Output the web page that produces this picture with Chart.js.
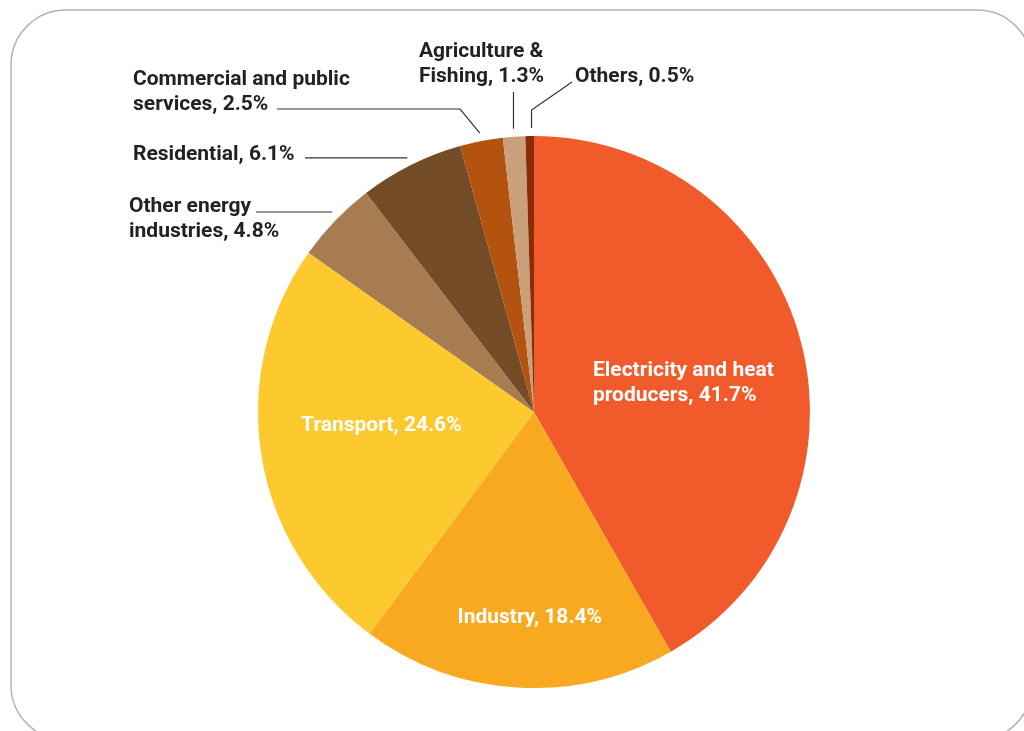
<!DOCTYPE html>
<html>
<head>
<meta charset="utf-8">
<script src="https://cdn.jsdelivr.net/npm/chart.js@4.4.0/dist/chart.umd.min.js"></script>
<style>
  html, body { margin: 0; padding: 0; background: #fff; }
  #wrap { width: 1024px; height: 731px; position: relative; }
</style>
</head>
<body>
<div id="wrap"><canvas id="pieChart" width="1024" height="731"></canvas></div>
<script>
const sectors = [
  'Electricity and heat producers',
  'Industry',
  'Transport',
  'Other energy industries',
  'Residential',
  'Commercial and public services',
  'Agriculture & Fishing',
  'Others'
];
const shares = [41.7, 18.4, 24.6, 4.8, 6.1, 2.5, 1.3, 0.5];
const colors = ['#F15A2B', '#F8A91F', '#FCC92F', '#A77C51', '#744C28', '#B3530F', '#C9A07A', '#8A2C06'];

// label text lines, by slice
const labelLines = [
  ['Electricity and heat', 'producers, 41.7%'],
  ['Industry, 18.4%'],
  ['Transport, 24.6%'],
  ['Other energy', 'industries, 4.8%'],
  ['Residential, 6.1%'],
  ['Commercial and public', 'services, 2.5%'],
  ['Agriculture &', 'Fishing, 1.3%'],
  ['Others, 0.5%']
];

const FONT = 'bold 21px Roboto, "Noto Sans", sans-serif';
const LH = 25;

// rounded frame behind the chart
const framePlugin = {
  id: 'frame',
  beforeDraw(chart) {
    const ctx = chart.ctx;
    ctx.save();
    ctx.strokeStyle = '#b4b4b4';
    ctx.lineWidth = 1.5;
    ctx.beginPath();
    ctx.roundRect(11, 10, 1021, 730, 55);
    ctx.stroke();
    ctx.restore();
  }
};

function arcPoint(arc, extra) {
  const mid = (arc.startAngle + arc.endAngle) / 2;
  const r = arc.outerRadius + extra;
  return { x: arc.x + Math.cos(mid) * r, y: arc.y + Math.sin(mid) * r };
}

const labelPlugin = {
  id: 'sliceLabels',
  afterDatasetsDraw(chart) {
    const ctx = chart.ctx;
    const arcs = chart.getDatasetMeta(0).data;
    ctx.save();
    ctx.font = FONT;
    ctx.textBaseline = 'alphabetic';

    // inside labels: block centred on a point of the slice, lines left-aligned
    const inside = [
      { i: 0, fr: 0.56, dx: 0, dy: 9 },
      { i: 1, fr: 0.74, dx: 8, dy: 0 },
      { i: 2, fr: 0.56, dx: 0, dy: -13 }
    ];
    ctx.fillStyle = '#ffffff';
    ctx.textAlign = 'left';
    inside.forEach(o => {
      const a = arcs[o.i];
      const mid = (a.startAngle + a.endAngle) / 2;
      const cx = a.x + Math.cos(mid) * a.outerRadius * o.fr + o.dx;
      const cy = a.y + Math.sin(mid) * a.outerRadius * o.fr + o.dy;
      const lines = labelLines[o.i];
      const w = Math.max(...lines.map(t => ctx.measureText(t).width));
      const first = cy - (lines.length - 1) * LH / 2 + 7.5;
      lines.forEach((t, k) => ctx.fillText(t, cx - w / 2, first + k * LH));
    });

    // outside labels with leader lines
    ctx.fillStyle = '#222222';
    const outside = [
      { i: 3, x: 129, y: 212 },
      { i: 4, x: 133, y: 160 },
      { i: 5, x: 133, y: 85 },
      { i: 6, x: 419, y: 57 },
      { i: 7, x: 575, y: 82 }
    ];
    outside.forEach(o => {
      labelLines[o.i].forEach((t, k) => ctx.fillText(t, o.x, o.y + k * LH));
    });

    ctx.strokeStyle = '#333333';
    ctx.lineWidth = 1.2;
    const line = pts => {
      ctx.beginPath();
      ctx.moveTo(pts[0].x, pts[0].y);
      pts.slice(1).forEach(p => ctx.lineTo(p.x, p.y));
      ctx.stroke();
    };
    // Other energy industries
    let p = arcPoint(arcs[3], 8);
    line([{ x: p.x + 3, y: 212 }, { x: 256, y: 212 }]);
    // Residential
    p = arcPoint(arcs[4], 8);
    line([p, { x: 305, y: p.y }]);
    // Commercial and public services
    p = arcPoint(arcs[5], 8);
    line([p, { x: 460, y: 109 }, { x: 277, y: 109 }]);
    // Agriculture & Fishing
    p = arcPoint(arcs[6], 8);
    line([p, { x: p.x, y: 92 }]);
    // Others
    p = arcPoint(arcs[7], 8);
    line([{ x: p.x + 2, y: p.y }, { x: p.x + 2, y: 110 }, { x: 572, y: 82 }]);

    ctx.restore();
  }
};

new Chart(document.getElementById('pieChart').getContext('2d'), {
  type: 'pie',
  data: {
    labels: sectors,
    datasets: [{
      data: shares,
      backgroundColor: colors,
      borderWidth: 0
    }]
  },
  options: {
    responsive: false,
    animation: false,
    layout: { padding: { left: 258, right: 214, top: 136, bottom: 43 } },
    plugins: {
      legend: { display: false },
      tooltip: { enabled: false }
    }
  },
  plugins: [framePlugin, labelPlugin]
});
</script>
</body>
</html>
